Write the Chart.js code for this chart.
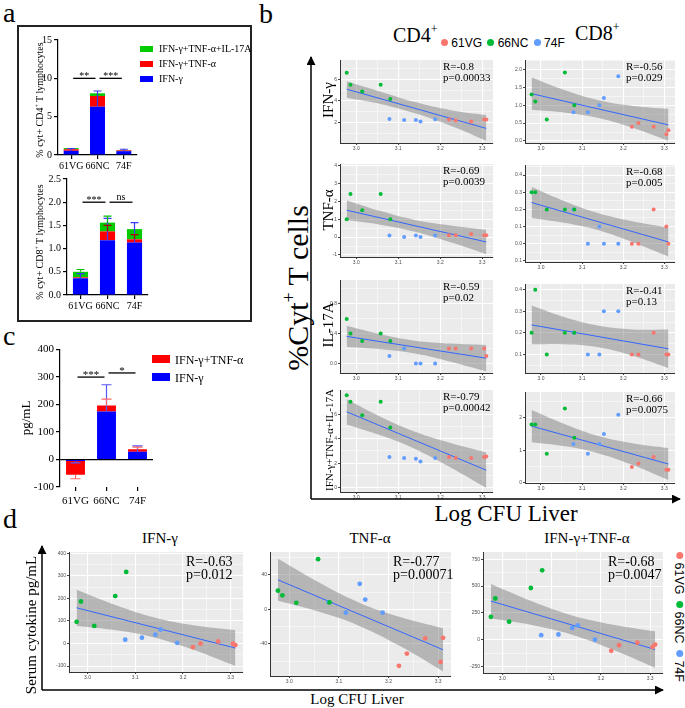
<!DOCTYPE html>
<html>
<head>
<meta charset="utf-8">
<script src="https://cdn.jsdelivr.net/npm/chart.js@4.4.1/dist/chart.umd.min.js"></script>
<style>
  body { margin: 0; width: 685px; height: 708px; overflow: hidden; position: relative; background: #fff; font-family: "Liberation Serif", serif; }
  canvas { position: absolute; }
  .t { position: absolute; white-space: nowrap; line-height: 1; color: #000; }
  .c { transform: translateX(-50%); }
  .rot { position: absolute; white-space: nowrap; line-height: 1; transform: translate(-50%, -50%) rotate(-90deg); }
  .rot90 { position: absolute; white-space: nowrap; line-height: 1; transform: translate(-50%, -50%) rotate(90deg); }
  .sans { font-family: "Liberation Sans", Arial, sans-serif; }
  .box { position: absolute; }
  .dot { display: inline-block; width: 7px; height: 7px; border-radius: 50%; vertical-align: 1px; }
  sup { font-size: 0.6em; vertical-align: 0.75em; line-height: 0; }
</style>
</head>
<body>

<!-- panel letters -->
<div class="t" style="left:3px;top:-1.5px;font-size:28px;">a</div>
<div class="t" style="left:259px;top:-0.5px;font-size:28px;">b</div>
<div class="t" style="left:3px;top:321.5px;font-size:28px;">c</div>
<div class="t" style="left:3px;top:504.5px;font-size:28px;">d</div>

<!-- panel a frame -->
<div style="position:absolute;left:17px;top:25px;width:231px;height:293px;border:2px solid #222;"></div>

<canvas id="cd4Bar"></canvas>
<canvas id="cd8Bar"></canvas>
<canvas id="serumBar"></canvas>

<canvas id="cd4IfnPlot"></canvas>
<canvas id="cd8IfnPlot"></canvas>
<canvas id="cd4TnfPlot"></canvas>
<canvas id="cd8TnfPlot"></canvas>
<canvas id="cd4IlPlot"></canvas>
<canvas id="cd8IlPlot"></canvas>
<canvas id="cd4AllPlot"></canvas>
<canvas id="cd8AllPlot"></canvas>
<canvas id="serIfnPlot"></canvas>
<canvas id="serTnfPlot"></canvas>
<canvas id="serBothPlot"></canvas>

<!-- panel a legend -->
<div class="box" style="left:140px;top:46px;width:13px;height:6px;background:#00cc00;"></div>
<div class="t" style="left:159px;top:44px;font-size:10px;">IFN-γ+TNF-α+IL-17A</div>
<div class="box" style="left:140px;top:61px;width:13px;height:6px;background:#ff0000;"></div>
<div class="t" style="left:159px;top:58.6px;font-size:10px;">IFN-γ+TNF-α</div>
<div class="box" style="left:140px;top:76px;width:13px;height:6px;background:#0000ff;"></div>
<div class="t" style="left:159px;top:73.6px;font-size:10px;">IFN-γ</div>
<div class="rot" style="left:40px;top:100px;font-size:10px;">% cyt+ CD4<sup>+</sup> T lymphocytes</div>
<div class="rot" style="left:40px;top:242px;font-size:10px;">% cyt+ CD8<sup>+</sup> T lymphocytes</div>

<!-- panel c legend -->
<div class="box" style="left:152px;top:355px;width:18px;height:8px;background:#ff0000;"></div>
<div class="t" style="left:175px;top:354px;font-size:12px;">IFN-γ+TNF-α</div>
<div class="box" style="left:152px;top:373px;width:18px;height:8px;background:#0000ff;"></div>
<div class="t" style="left:175px;top:372px;font-size:12px;">IFN-γ</div>
<div class="rot" style="left:25px;top:418px;font-size:13px;">pg/mL</div>

<!-- panel b headers -->
<div class="t" style="left:393px;top:25.2px;font-size:20px;">CD4<sup>+</sup></div>
<div class="t" style="left:575px;top:23.2px;font-size:20px;">CD8<sup>+</sup></div>
<div class="t sans" style="left:441px;top:37px;font-size:12px;">
  <span class="dot" style="background:#F8766D;"></span> 61VG
  <span class="dot" style="background:#00BA38;margin-left:2px;"></span> 66NC
  <span class="dot" style="background:#619CFF;margin-left:2px;"></span> 74F
</div>
<div class="rot" style="left:298px;top:288px;font-size:30px;">%Cyt<sup>+</sup> T cells</div>
<div class="rot" style="left:328px;top:100px;font-size:15px;">IFN-γ</div>
<div class="rot" style="left:328px;top:210px;font-size:15px;">TNF-α</div>
<div class="rot" style="left:328px;top:325px;font-size:15px;">IL-17A</div>
<div class="rot" style="left:329px;top:440px;font-size:11px;">IFN-γ+TNF-α+IL-17A</div>
<div class="t c" style="left:506px;top:501.7px;font-size:23px;">Log CFU Liver</div>

<!-- panel d texts -->
<div class="t c" style="left:160px;top:531.4px;font-size:15px;">IFN-γ</div>
<div class="t c" style="left:370px;top:531.4px;font-size:15px;">TNF-α</div>
<div class="t c" style="left:587px;top:531.4px;font-size:15px;">IFN-γ+TNF-α</div>
<div class="rot" style="left:31px;top:625px;font-size:15px;">Serum cytokine pg/mL</div>
<div class="t c" style="left:357px;top:692.4px;font-size:15px;">Log CFU Liver</div>
<div class="rot90 sans" style="left:679px;top:617px;font-size:12.5px;">
  <span class="dot" style="background:#F8766D;"></span> 61VG
  <span class="dot" style="background:#00BA38;margin-left:3px;"></span> 66NC
  <span class="dot" style="background:#619CFF;margin-left:3px;"></span> 74F
</div>

<svg width="685" height="708" style="position:absolute;left:0;top:0;pointer-events:none;">
  <defs>
    <marker id="ah" viewBox="0 0 10 10" refX="9" refY="5" markerWidth="6" markerHeight="6" orient="auto">
      <path d="M0,0 L10,5 L0,10 z" fill="#000"/>
    </marker>
  </defs>
  <line x1="311" y1="499" x2="311" y2="57" stroke="#000" stroke-width="1.5" marker-end="url(#ah)"/>
  <line x1="311" y1="499" x2="680" y2="499" stroke="#000" stroke-width="1.5" marker-end="url(#ah)"/>
  <line x1="42" y1="690" x2="42" y2="546" stroke="#000" stroke-width="1.5" marker-end="url(#ah)"/>
  <line x1="42" y1="690" x2="663" y2="690" stroke="#000" stroke-width="1.5" marker-end="url(#ah)"/>
</svg>

<script>
// ---- panel a / c : bar data ----
const groups = ['61VG', '66NC', '74F'];

const cd4Ifn = [0.55, 6.3, 0.5];
const cd4IfnTnf = [0.2, 1.4, 0.1];
const cd4Triple = [0.15, 0.35, 0.05];
const cd4IfnErr = [0.3, 2.05, 0.25];
const cd4Sig = [['**', 0, 1, 10], ['***', 1, 2, 10]];

const cd8Ifn = [0.36, 1.18, 1.13];
const cd8IfnTnf = [0.02, 0.19, 0.07];
const cd8Triple = [0.12, 0.19, 0.22];
const cd8IfnErr = [0.1, 0.47, 0.43];
const cd8IfnTnfErr = [0, 0.13, 0.1];
const cd8TripleErr = [0.05, 0.14, 0];
const cd8Sig = [['***', 0, 1, 2.0], ['ns', 1, 2, 2.0]];

const serumIfn = [-5, 175, 28];
const serumIfnTnf = [-50, 22, 9];
const serumIfnErr = [-7, 97, 22];
const serumIfnTnfErr = [-15, 23, 8];
const serumSig = [['***', 0, 1, 300], ['*', 1, 2, 315]];

// ---- panel b / d : Log CFU liver per mouse ----
const logCfuVG = [3.221, 3.237, 3.274, 3.305, 3.31];
const logCfuNC = [2.977, 2.986, 3.014, 3.058, 3.081];
const logCfu74F = [3.079, 3.114, 3.142, 3.153, 3.188];
const fitX = [2.977, 3.06, 3.14, 3.225, 3.31];
const xMajor = [3.0, 3.1, 3.2, 3.3];

const cd4IfnVG = [2.27, 2.18, 2.09, 2.27, 2.27];
const cd4IfnNC = [6.64, 5.52, 4.88, 5.52, 4.18];
const cd4Ifn74F = [2.33, 2.24, 2.24, 2.09, 2.30];
const cd4IfnFit = [5.1, 1.45];
const cd4IfnHi = [5.85, 4.85, 3.9, 3.15, 2.7];
const cd4IfnLo = [4.3, 3.7, 2.85, 1.7, 0.3];

const cd8IfnVG = [0.40, 0.50, 0.40, 0.19, 0.30];
const cd8IfnNC = [1.30, 1.10, 0.60, 1.91, 1.00];
const cd8Ifn74F = [0.80, 0.80, 1.00, 1.20, 1.81];
const cd8IfnFit = [1.32, 0.45];
const cd8IfnHi = [1.77, 1.41, 1.14, 0.98, 0.90];
const cd8IfnLo = [0.87, 0.79, 0.64, 0.36, 0.00];

const cd4TnfVG = [0.10, 0.10, 0.18, 0.10, 0.10];
const cd4TnfNC = [1.0, 2.4, 1.5, 2.4, 1.0];
const cd4Tnf74F = [0.09, 0.0, 0.09, 0.0, 0.09];
const cd4TnfFit = [1.5, -0.27];
const cd4TnfHi = [2.05, 1.44, 0.96, 0.65, 0.41];
const cd4TnfLo = [0.95, 0.68, 0.30, -0.29, -0.95];

const cd8TnfVG = [0.0, 0.0, 0.2, 0.1, 0.0];
const cd8TnfNC = [0.3, 0.3, 0.2, 0.2, 0.2];
const cd8Tnf74F = [0.2, 0.0, 0.1, 0.0, 0.0];
const cd8TnfFit = [0.24, 0.01];
const cd8TnfHi = [0.33, 0.245, 0.178, 0.13, 0.095];
const cd8TnfLo = [0.15, 0.12, 0.078, 0.007, -0.075];

const cd4IlVG = [0.2, 0.2, 0.2, 0.2, 0.1];
const cd4IlNC = [0.59, 0.4, 0.3, 0.4, 0.3];
const cd4Il74F = [0.1, 0.2, 0.0, 0.0, 0.0];
const cd4IlFit = [0.36, 0.07];
const cd4IlHi = [0.5, 0.385, 0.303, 0.264, 0.245];
const cd4IlLo = [0.22, 0.19, 0.133, 0.024, -0.105];

const cd8IlVG = [0.1, 0.1, 0.2, 0.1, 0.1];
const cd8IlNC = [0.2, 0.4, 0.1, 0.2, 0.2];
const cd8Il74F = [0.2, 0.1, 0.1, 0.3, 0.3];
const cd8IlFit = [0.237, 0.126];
const cd8IlHi = [0.327, 0.271, 0.233, 0.216, 0.216];
const cd8IlLo = [0.147, 0.147, 0.133, 0.092, 0.036];

const cd4AllVG = [2.5, 2.42, 2.42, 2.5, 2.55];
const cd4AllNC = [7.56, 7.02, 5.92, 7.02, 4.92];
const cd4All74F = [2.5, 2.42, 2.37, 2.15, 2.42];
const cd4AllFit = [6.2, 1.43];
const cd4AllHi = [7.23, 5.76, 4.57, 3.65, 2.88];
const cd4AllLo = [5.17, 4.26, 3.17, 1.65, -0.02];

const cd8AllVG = [0.48, 0.59, 0.79, 0.39, 0.39];
const cd8AllNC = [1.8, 1.8, 0.89, 2.3, 1.39];
const cd8All74F = [1.19, 0.89, 1.19, 1.5, 2.1];
const cd8AllFit = [1.75, 0.57];
const cd8AllHi = [2.25, 1.8, 1.44, 1.21, 1.07];
const cd8AllLo = [1.25, 1.12, 0.9, 0.53, 0.07];

const serIfnVG = [-16, 0, 9, -1, -7];
const serIfnNC = [96, 186, 78, 210, 317];
const serIfn74F = [17, 26, 39, 62, 3];
const serIfnFit = [158, -20];
const serIfnHi = [238, 169, 115, 80, 60];
const serIfnLo = [78, 59, 27, -30, -100];

const serTnfVG = [-65.6, -51.4, -33.6, -61, -33.1];
const serTnfNC = [21.7, 16.3, 7.6, 58.3, 8];
const serTnf74F = [8.3, -3.9, 29.7, 11.4, -3.9];
const serTnfFit = [34.3, -46.9];
const serTnfHi = [58.7, 31.1, 8.1, -9.2, -21.9];
const serTnfLo = [9.9, -2.9, -18.9, -43.2, -71.9];

const serBothVG = [-104, -52, -27, -68, -46];
const serBothNC = [213, 384, 168, 482, 647];
const serBoth74F = [42, 48, 110, 134, 0];
const serBothFit = [360, -92];
const serBothHi = [520, 358, 229, 140, 78];
const serBothLo = [200, 137, 49, -94, -262];

const colVG = '#F8766D', colNC = '#00BA38', col74F = '#619CFF';
const barBlue = '#0000ff', barRed = '#ff0000', barGreen = '#00cc00';

// ---- plugins ----
const panelBg = {
  id: 'panelBg',
  beforeDraw(chart, args, opts) {
    if (!opts.color) return;
    const a = chart.chartArea, ctx = chart.ctx;
    ctx.save();
    ctx.fillStyle = opts.color;
    ctx.fillRect(a.left, a.top, a.right - a.left, a.bottom - a.top);
    ctx.restore();
  }
};

const errorBars = {
  id: 'errorBars',
  afterDatasetsDraw(chart, args, opts) {
    const ctx = chart.ctx, ys = chart.scales.y;
    chart.data.datasets.forEach((ds, di) => {
      if (!ds.errors) return;
      chart.getDatasetMeta(di).data.forEach((el, i) => {
        const e = ds.errors[i];
        if (!e) return;
        const end = ys.getPixelForValue(ys.getValueForPixel(el.y) + e);
        ctx.save();
        ctx.strokeStyle = ds.errColor;
        ctx.lineWidth = 1.2;
        ctx.beginPath();
        ctx.moveTo(el.x, el.y);
        ctx.lineTo(el.x, end);
        ctx.moveTo(el.x - opts.cap, end);
        ctx.lineTo(el.x + opts.cap, end);
        ctx.stroke();
        ctx.restore();
      });
    });
  }
};

const sigBars = {
  id: 'sigBars',
  afterDraw(chart, args, opts) {
    if (!opts.items) return;
    const ctx = chart.ctx, xs = chart.scales.x, ys = chart.scales.y;
    ctx.save();
    ctx.strokeStyle = '#000';
    ctx.fillStyle = '#000';
    ctx.lineWidth = 1.3;
    ctx.font = opts.size + 'px "Liberation Serif"';
    ctx.textAlign = 'center';
    ctx.textBaseline = 'alphabetic';
    opts.items.forEach(([txt, i, j, v]) => {
      const x1 = xs.getPixelForValue(i) + 2, x2 = xs.getPixelForValue(j) - 2;
      const y = ys.getPixelForValue(v);
      ctx.beginPath();
      ctx.moveTo(x1, y);
      ctx.lineTo(x2, y);
      ctx.stroke();
      ctx.fillText(txt, (x1 + x2) / 2, txt === 'ns' ? y - 2 : y + 1);
    });
    ctx.restore();
  }
};

const statText = {
  id: 'statText',
  afterDraw(chart, args, opts) {
    if (!opts.lines) return;
    const ctx = chart.ctx, a = chart.chartArea;
    ctx.save();
    ctx.fillStyle = '#000';
    ctx.font = opts.size + 'px "Liberation Serif"';
    ctx.textBaseline = 'alphabetic';
    opts.lines.forEach((t, k) => ctx.fillText(t, a.right - opts.off, a.top + opts.first + k * opts.gap));
    ctx.restore();
  }
};

Chart.register(panelBg, errorBars, sigBars, statText);
Chart.defaults.font.family = '"Liberation Serif", serif';
Chart.defaults.animation = false;
Chart.defaults.events = [];
Chart.defaults.plugins.legend.display = false;
Chart.defaults.plugins.tooltip.enabled = false;

// place a canvas so that its chart area lands on plot = [left, top, right, bottom]
function frame(id, plot, m) {
  const c = document.getElementById(id);
  const w = plot[2] - plot[0] + m[0] + m[2], h = plot[3] - plot[1] + m[1] + m[3];
  c.width = w; c.height = h;
  c.style.width = w + 'px'; c.style.height = h + 'px';
  c.style.left = (plot[0] - m[0]) + 'px';
  c.style.top = (plot[1] - m[1]) + 'px';
  return c;
}

function barChart(id, plot, m, o) {
  const c = frame(id, plot, m);
  new Chart(c, {
    type: 'bar',
    data: { labels: groups, datasets: o.sets },
    options: {
      responsive: false,
      devicePixelRatio: 1,
      layout: { padding: { left: 0, top: m[1], right: m[2], bottom: 0 } },
      datasets: { bar: { barPercentage: o.bp, categoryPercentage: 1 } },
      plugins: { errorBars: { cap: o.cap }, sigBars: { items: o.sig, size: o.sigSize } },
      scales: {
        x: {
          stacked: true,
          grid: { offset: false, drawOnChartArea: false, tickLength: 4, color: '#000', lineWidth: 1.2 },
          border: { display: o.xBorder, color: '#000', width: 1.2 },
          ticks: { color: '#000', font: { size: o.font }, padding: o.xPad, maxRotation: 0, autoSkip: false },
          afterFit: s => { s.height = m[3]; }
        },
        y: {
          stacked: true,
          min: o.y[0], max: o.y[1],
          ticks: { stepSize: o.step, color: '#000', font: { size: o.font }, padding: 2, callback: v => v.toFixed(o.dec) },
          grid: {
            drawOnChartArea: o.zero,
            color: g => (g.tick && g.tick.value === 0) ? '#000' : 'rgba(0,0,0,0)',
            lineWidth: 1.2, tickColor: '#000', tickLength: 4
          },
          border: { color: '#000', width: 1.2 },
          afterFit: s => { s.width = m[0]; }
        }
      }
    }
  });
}

function tickList(major, lo, hi) {
  const step = major[1] - major[0];
  const all = [major[0] - step / 2];
  major.forEach(v => { all.push(v, v + step / 2); });
  return all.filter(v => v >= lo - 1e-9 && v <= hi + 1e-9);
}
const isMaj = (arr, v) => arr.some(t => Math.abs(t - v) < 1e-7);

function pts(ys, xs, col, r) {
  return { data: xs.map((x, i) => ({ x, y: ys[i] })), backgroundColor: col, borderWidth: 0, pointRadius: r };
}

const xRange = [2.961, 3.326];

function scatter(id, plot, m, p) {
  const c = frame(id, plot, m);
  const yList = tickList(p.major, p.y[0], p.y[1]);
  const xList = tickList(xMajor, xRange[0], xRange[1]);
  const tickFont = { family: '"Liberation Sans", sans-serif', size: p.tick };
  const gridOpts = arr => ({
    color: '#ffffff',
    lineWidth: g => (g.tick && isMaj(arr, g.tick.value)) ? 1.1 : 0.5,
    tickColor: g => (g.tick && isMaj(arr, g.tick.value)) ? '#444' : 'rgba(0,0,0,0)',
    tickLength: 2
  });
  new Chart(c, {
    type: 'scatter',
    data: {
      datasets: [
        pts(p.vg, logCfuVG, colVG, p.r),
        pts(p.nc, logCfuNC, colNC, p.r),
        pts(p.f74, logCfu74F, col74F, p.r),
        { type: 'line', data: [{ x: fitX[0], y: p.fit[0] }, { x: fitX[fitX.length - 1], y: p.fit[1] }],
          borderColor: '#3366FF', borderWidth: 1, pointRadius: 0 },
        { type: 'line', data: fitX.map((x, i) => ({ x, y: p.hi[i] })), borderColor: 'rgba(0,0,0,0)', borderWidth: 0,
          pointRadius: 0, tension: 0.4, fill: '+1', backgroundColor: 'rgba(115,115,115,0.45)' },
        { type: 'line', data: fitX.map((x, i) => ({ x, y: p.lo[i] })), borderColor: 'rgba(0,0,0,0)', borderWidth: 0,
          pointRadius: 0, tension: 0.4, fill: false }
      ]
    },
    options: {
      responsive: false,
      devicePixelRatio: 1,
      layout: { padding: { left: 0, top: m[1], right: m[2], bottom: 0 } },
      plugins: {
        panelBg: { color: '#ebebeb' },
        statText: { lines: p.stat, size: p.ss, off: p.off, first: p.first, gap: p.gap }
      },
      scales: {
        x: {
          type: 'linear', min: xRange[0], max: xRange[1],
          afterBuildTicks: s => { s.ticks = xList.map(v => ({ value: v })); },
          ticks: { autoSkip: false, maxRotation: 0, padding: 1, color: '#4d4d4d', font: tickFont,
                   callback: v => isMaj(xMajor, v) ? v.toFixed(1) : '' },
          grid: gridOpts(xMajor),
          border: { color: '#333', width: 1 },
          afterFit: s => { s.height = m[3]; }
        },
        y: {
          min: p.y[0], max: p.y[1],
          afterBuildTicks: s => { s.ticks = yList.map(v => ({ value: v })); },
          ticks: { autoSkip: false, padding: 1, color: '#4d4d4d', font: tickFont,
                   callback: v => isMaj(p.major, v) ? v.toFixed(p.dec) : '' },
          grid: gridOpts(p.major),
          border: { color: '#333', width: 1 },
          afterFit: s => { s.width = m[0]; }
        }
      }
    }
  });
}

// ---- panel a ----
barChart('cd4Bar', [58, 40, 137, 155], [25, 8, 4, 16], {
  sets: [
    { label: 'IFN-γ', data: cd4Ifn, backgroundColor: barBlue, errors: cd4IfnErr, errColor: '#3a3ae0' },
    { label: 'IFN-γ+TNF-α', data: cd4IfnTnf, backgroundColor: barRed },
    { label: 'IFN-γ+TNF-α+IL-17A', data: cd4Triple, backgroundColor: barGreen }
  ],
  y: [0, 15], step: 5, dec: 0, font: 10, bp: 0.57, cap: 4, sig: cd4Sig, sigSize: 10,
  xBorder: true, xPad: 1, zero: false
});

barChart('cd8Bar', [67, 179, 148, 295], [25, 8, 4, 16], {
  sets: [
    { label: 'IFN-γ', data: cd8Ifn, backgroundColor: barBlue, errors: cd8IfnErr, errColor: '#3a3aff' },
    { label: 'IFN-γ+TNF-α', data: cd8IfnTnf, backgroundColor: barRed, errors: cd8IfnTnfErr, errColor: '#b00000' },
    { label: 'IFN-γ+TNF-α+IL-17A', data: cd8Triple, backgroundColor: barGreen, errors: cd8TripleErr, errColor: '#00c000' }
  ],
  y: [0, 2.5], step: 0.5, dec: 1, font: 10, bp: 0.56, cap: 4, sig: cd8Sig, sigSize: 10,
  xBorder: true, xPad: 1, zero: false
});

// ---- panel c ----
barChart('serumBar', [60, 349, 153, 487], [28, 8, 4, 18], {
  sets: [
    { label: 'IFN-γ', data: serumIfn, backgroundColor: barBlue, errors: serumIfnErr, errColor: '#5555ff' },
    { label: 'IFN-γ+TNF-α', data: serumIfnTnf, backgroundColor: barRed, errors: serumIfnTnfErr, errColor: '#ff6666' }
  ],
  y: [-100, 400], step: 100, dec: 0, font: 11, bp: 0.61, cap: 5, sig: serumSig, sigSize: 11,
  xBorder: false, xPad: 4, zero: true
});

// ---- panel b ----
const bM = [10, 2, 2, 8];
const bTxt = { ss: 11, off: 50, first: 9.5, gap: 11, tick: 5, r: 2 };
scatter('cd4IfnPlot', [340, 58, 495, 143], bM, Object.assign({
  vg: cd4IfnVG, nc: cd4IfnNC, f74: cd4Ifn74F, fit: cd4IfnFit, hi: cd4IfnHi, lo: cd4IfnLo,
  y: [0.09, 7.82], major: [2, 4, 6], dec: 0, stat: ['R=-0.8', 'p=0.00033'] }, bTxt));
scatter('cd8IfnPlot', [525, 58, 677, 143], bM, Object.assign({
  vg: cd8IfnVG, nc: cd8IfnNC, f74: cd8Ifn74F, fit: cd8IfnFit, hi: cd8IfnHi, lo: cd8IfnLo,
  y: [-0.055, 2.26], major: [0, 0.5, 1.0, 1.5, 2.0], dec: 1, stat: ['R=-0.56', 'p=0.029'] }, bTxt, { off: 49 }));
scatter('cd4TnfPlot', [340, 162, 495, 257], bM, Object.assign({
  vg: cd4TnfVG, nc: cd4TnfNC, f74: cd4Tnf74F, fit: cd4TnfFit, hi: cd4TnfHi, lo: cd4TnfLo,
  y: [-1.11, 4.08], major: [-1, 0, 1, 2, 3, 4], dec: 0, stat: ['R=-0.69', 'p=0.0039'] }, bTxt));
scatter('cd8TnfPlot', [525, 163, 677, 262], bM, Object.assign({
  vg: cd8TnfVG, nc: cd8TnfNC, f74: cd8Tnf74F, fit: cd8TnfFit, hi: cd8TnfHi, lo: cd8TnfLo,
  y: [-0.107, 0.459], major: [-0.1, 0, 0.1, 0.2, 0.3, 0.4], dec: 1, stat: ['R=-0.68', 'p=0.005'] }, bTxt, { off: 49 }));
scatter('cd4IlPlot', [340, 278, 495, 373], bM, Object.assign({
  vg: cd4IlVG, nc: cd4IlNC, f74: cd4Il74F, fit: cd4IlFit, hi: cd4IlHi, lo: cd4IlLo,
  y: [-0.127, 1.11], major: [0, 0.4, 0.8], dec: 1, stat: ['R=-0.59', 'p=0.02'] }, bTxt));
scatter('cd8IlPlot', [525, 282, 677, 373], bM, Object.assign({
  vg: cd8IlVG, nc: cd8IlNC, f74: cd8Il74F, fit: cd8IlFit, hi: cd8IlHi, lo: cd8IlLo,
  y: [0.0136, 0.427], major: [0.1, 0.2, 0.3, 0.4], dec: 1, stat: ['R=-0.41', 'p=0.13'] }, bTxt, { off: 49 }));
scatter('cd4AllPlot', [340, 388, 495, 492], bM, Object.assign({
  vg: cd4AllVG, nc: cd4AllNC, f74: cd4All74F, fit: cd4AllFit, hi: cd4AllHi, lo: cd4AllLo,
  y: [-0.35, 7.98], major: [0, 2, 4, 6], dec: 0, stat: ['R=-0.79', 'p=0.00042'] }, bTxt));
scatter('cd8AllPlot', [525, 390, 677, 483], bM, Object.assign({
  vg: cd8AllVG, nc: cd8AllNC, f74: cd8All74F, fit: cd8AllFit, hi: cd8AllHi, lo: cd8AllLo,
  y: [-0.02, 2.81], major: [0, 1, 2], dec: 0, stat: ['R=-0.66', 'p=0.0075'] }, bTxt, { off: 49 }));

// ---- panel d ----
const dM = [14, 2, 2, 9];
const dTxt = { ss: 14, off: 57, first: 14, gap: 12.5, tick: 5, r: 2.4 };
scatter('serIfnPlot', [69, 550, 245, 672], dM, Object.assign({
  vg: serIfnVG, nc: serIfnNC, f74: serIfn74F, fit: serIfnFit, hi: serIfnHi, lo: serIfnLo,
  y: [-126, 405], major: [-100, 0, 100, 200, 300, 400], dec: 0, stat: ['R=-0.63', 'p=0.012'] }, dTxt));
scatter('serTnfPlot', [270, 550, 453, 676], dM, Object.assign({
  vg: serTnfVG, nc: serTnfNC, f74: serTnf74F, fit: serTnfFit, hi: serTnfHi, lo: serTnfLo,
  y: [-77.4, 66.6], major: [-40, 0, 40], dec: 0, stat: ['R=-0.77', 'p=0.00071'] }, dTxt, { off: 58 }));
scatter('serBothPlot', [483, 550, 665, 673], dM, Object.assign({
  vg: serBothVG, nc: serBothNC, f74: serBoth74F, fit: serBothFit, hi: serBothHi, lo: serBothLo,
  y: [-311, 818], major: [-250, 0, 250, 500, 750], dec: 0, stat: ['R=-0.68', 'p=0.0047'] }, dTxt, { off: 55 }));
</script>
</body>
</html>
